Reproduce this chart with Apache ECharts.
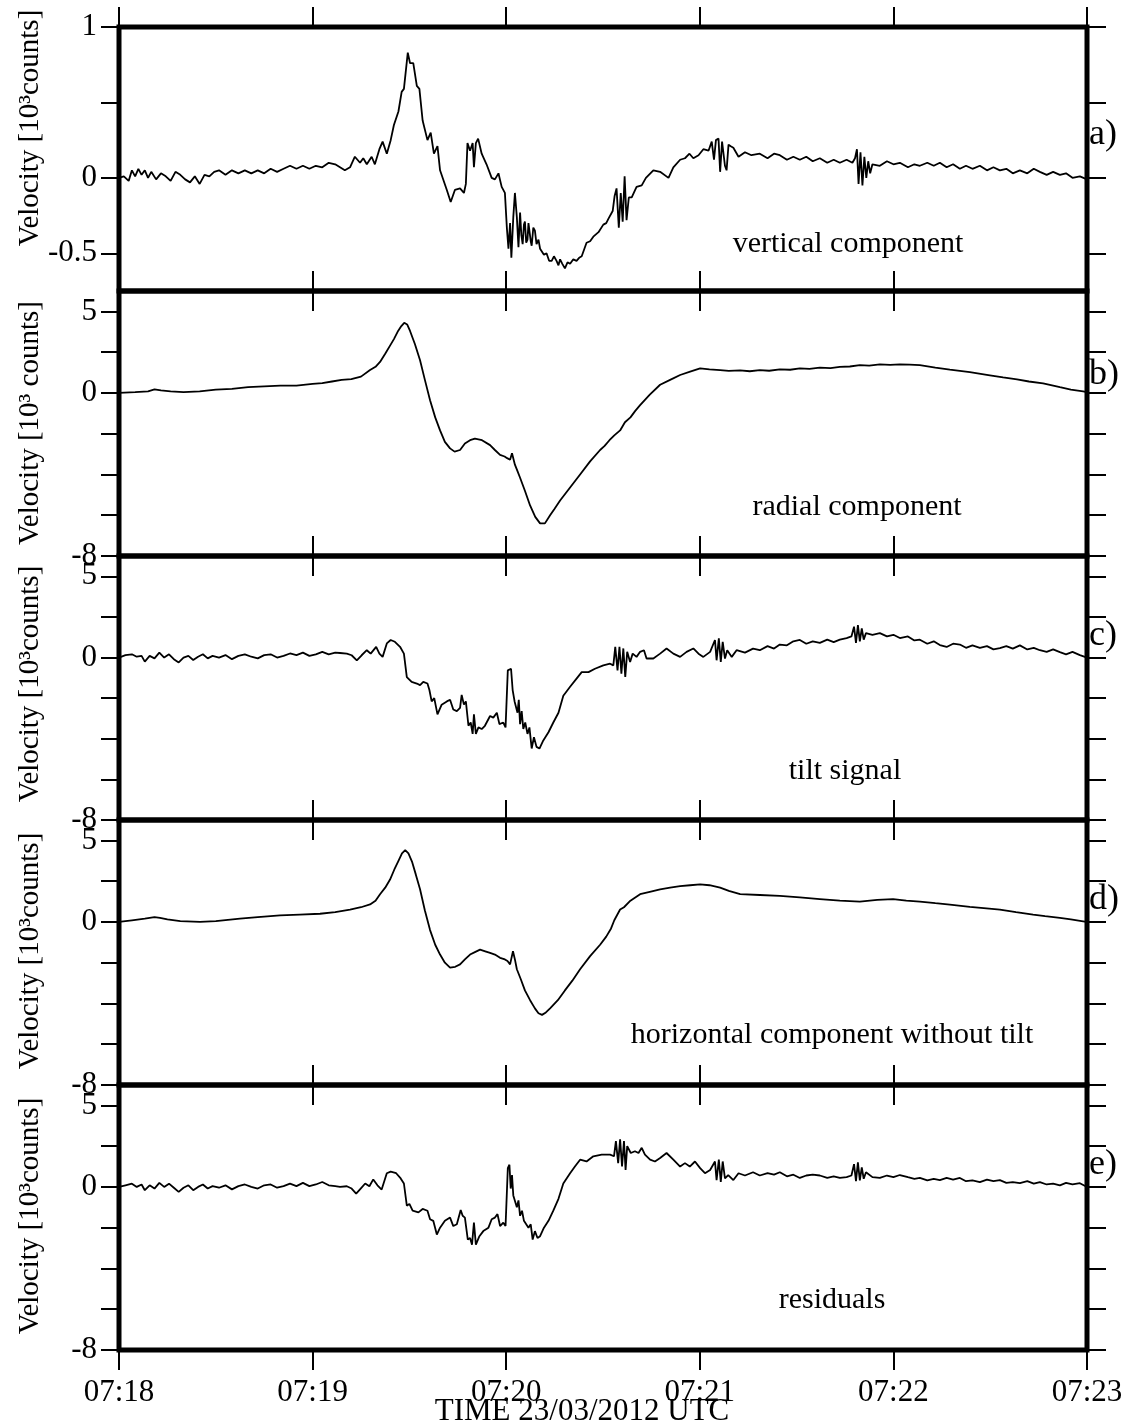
<!DOCTYPE html>
<html><head><meta charset="utf-8">
<script src="https://cdn.jsdelivr.net/npm/echarts@6/dist/echarts.min.js"></script>
<style>html,body{margin:0;padding:0;background:#fff}#c{width:1133px;height:1428px}</style>
</head><body><div id="c"></div>
<script>
// ---------- text / ticks ----------
const xTickLabels = ['07:18','07:19','07:20','07:21','07:22','07:23']; // every 60 s
const xTitle = 'TIME 23/03/2012 UTC';
const panelNames = ['vertical component','radial component','tilt signal','horizontal component without tilt','residuals'];
const panelLetters = ['a)','b)','c)','d)','e)'];
const yTitles = ['Velocity [10³counts]','Velocity [10³ counts]','Velocity [10³counts]','Velocity [10³counts]','Velocity [10³counts]'];
const yRangeVert = [-0.75, 1];
const yRangeHor = [-10, 6.25];
const yTicksVert = [-0.5, 0, 0.5, 1];
const yTicksHor = [-10, -7.5, -5, -2.5, 0, 2.5, 5];
const yLabelValsVert = [-0.5, 0, 1];
const yLabelTextVert = ['-0.5', '0', '1'];
const yLabelValsHor = [-10, 0, 5];
const yLabelTextHor = ['-8', '0', '5'];

// ---------- data: [seconds after 07:18, velocity (10^3 counts)] ----------
const vertical = [[0,0],[1.5,0.01],[3,-0.02],[4,0.05],[5,0.01],[6,0.06],[7,0.02],[8,0.05],[9,0.0],[10,0.04],[11.5,-0.01],[13,0.03],[14.5,0.01],[16,-0.02],[17.5,0.04],[19,0.02],[20.5,-0.01],[22,-0.03],[23.5,0.01],[25,-0.04],[26.5,0.02],[28,0.01],[29.5,0.04],[31,0.05],[33,0.02],[35,0.05],[37,0.03],[39,0.05],[41,0.03],[43,0.05],[45,0.03],[47,0.06],[49,0.04],[51,0.06],[53,0.08],[55,0.06],[57,0.08],[59,0.06],[61,0.08],[63,0.07],[65,0.10],[67,0.09],
[68.5,0.07],[70.0,0.05],[71.6,0.07],[73.1,0.14],[74.7,0.10],[75.7,0.13],[76.8,0.09],[78.3,0.14],[79.3,0.09],[80.7,0.19],[81.7,0.24],[83.0,0.16],[84.2,0.25],[85.2,0.35],[86.6,0.44],[87.6,0.57],[88.3,0.59],[89.5,0.83],[90.2,0.76],[91.2,0.76],[92.3,0.61],[93.1,0.59],[94.1,0.38],[95.6,0.25],[96.6,0.30],[97.6,0.16],[98.7,0.21],[99.5,0.05],[101.6,-0.08],[102.8,-0.16],[104.1,-0.08],[105.7,-0.07],[106.9,-0.10],[107.5,-0.04],[108.0,0.23],[108.8,0.18],[109.6,0.23],[110.0,0.07],[110.6,0.23],[111.3,0.26],[112.4,0.16],[113.9,0.09],[115.5,0.00],[116.5,-0.01],[117.6,0.03],[118.6,-0.06],[119.6,-0.10],[120.2,-0.33],[120.7,-0.47],[121.2,-0.30],[121.6,-0.53],[122.2,-0.26],[122.7,-0.10],[123.3,-0.26],[123.8,-0.46],[124.3,-0.23],[124.7,-0.38],[125.1,-0.44],[125.5,-0.31],[125.8,-0.29],[126.2,-0.43],[126.6,-0.41],[126.9,-0.30],[127.2,-0.29],[127.6,-0.42],[127.9,-0.45],[128.4,-0.33],[128.9,-0.35],[129.4,-0.44],[130.0,-0.41],[130.5,-0.47],[131.0,-0.46],[131.7,-0.51],[132.5,-0.50],[133.3,-0.55],[134.1,-0.55],[134.8,-0.52],[135.6,-0.55],[136.2,-0.58],[136.7,-0.54],[137.4,-0.57],[138.2,-0.60],[139.0,-0.56],[139.8,-0.57],[140.8,-0.54],[141.8,-0.55],[142.6,-0.53],[143.4,-0.52],[144.9,-0.43],[146.0,-0.42],[147.0,-0.39],[148.6,-0.36],[150.1,-0.31],[151.0,-0.30],[151.7,-0.27],[153.0,-0.22],[153.6,-0.12],[154.2,-0.07],[154.9,-0.33],[155.5,-0.10],[156.1,-0.29],[156.7,0.01],[157.3,-0.28],[158.0,-0.13],[158.9,-0.13],[160.4,-0.06],[162.0,-0.05],[163.3,0.00],[165.6,0.05],[167.7,0.04],[170.3,0.00],[171.8,0.07],[173.9,0.12],[175.4,0.13],[176.8,0.16],[178.0,0.13],[179.6,0.15],[181.1,0.19],[182.7,0.18],[183.7,0.24],[184.4,0.12],[185.0,0.25],[185.8,0.26],[186.3,0.04],[186.9,0.24],[187.3,0.25],[187.8,0.08],[188.3,0.05],[188.9,0.22],[189.6,0.21],[190.4,0.20],[192.0,0.14],
[194,0.17],[196,0.15],[198.6,0.16],[201,0.13],[203,0.16],[204.8,0.15],[207,0.12],[209,0.14],[211,0.12],[213,0.14],[215,0.11],[217.2,0.13],[219.5,0.10],[221.5,0.12],[223.4,0.10],[225.5,0.12],[227.3,0.10],[228.1,0.13],[228.7,0.19],[229.2,-0.04],[229.8,0.17],[230.4,-0.05],[231.0,0.14],[231.6,0.0],[232.2,0.11],[232.8,0.03],[233.5,0.09],[235.8,0.08],[238,0.11],[240,0.09],[242,0.10],[244.5,0.07],[246.5,0.09],[248.2,0.08],[250.5,0.10],[252.5,0.08],[254.4,0.10],[256.5,0.07],[258.5,0.09],[260.6,0.06],[262.5,0.08],[264.5,0.06],[266.8,0.08],[269,0.05],[271,0.07],[273,0.05],[275,0.06],[277,0.03],[279.2,0.05],[281.5,0.03],[283.5,0.06],[285.4,0.04],[287.5,0.02],[289.5,0.04],[291.6,0.02],[293.5,0.03],[295.5,0.0],[297.8,0.01],[300,-0.01]];

const radial = [[0,0],[5,0.05],[9,0.1],[11,0.22],[13,0.15],[16,0.1],[20,0.05],[25,0.1],[30,0.2],[35,0.25],[40,0.35],[45,0.4],[50,0.45],[55,0.45],[60,0.55],[63,0.6],[66,0.7],[69,0.8],[72,0.85],[75,1.0],[77.8,1.4],[79.5,1.6],[80.9,1.9],[82.5,2.4],[84,2.9],[85.2,3.3],[86.5,3.8],[87.5,4.1],[88.4,4.3],[89.3,4.2],[90.2,3.8],[91.7,3.0],[93.3,2.0],[94.8,0.8],[96.4,-0.45],[98,-1.5],[99.5,-2.3],[101,-3.0],[102.6,-3.4],[104,-3.6],[105.7,-3.5],[107.2,-3.1],[108.8,-2.9],[110.3,-2.8],[112.5,-2.9],[115,-3.2],[116.5,-3.5],[118.1,-3.8],[119.5,-3.9],[120.3,-4.0],[121.2,-4.1],[121.8,-3.7],[122.7,-4.4],[123.5,-4.8],[124.3,-5.2],[125.8,-6.0],[127.4,-6.9],[129,-7.6],[130.5,-8.0],[131.1,-8.1],[132,-8.0],[133.6,-7.5],[135,-7.1],[136.7,-6.6],[139.8,-5.8],[142.9,-5.0],[146,-4.2],[149.1,-3.5],[150.5,-3.25],[152,-2.9],[153.5,-2.6],[155.3,-2.3],[156.8,-1.8],[158.5,-1.5],[160,-1.1],[161.5,-0.75],[164.5,-0.1],[167.7,0.5],[170.8,0.8],[173.9,1.1],[177,1.3],[180.1,1.5],[183,1.45],[186.3,1.4],[189,1.35],[192.5,1.38],[195.5,1.33],[198.6,1.4],[201.5,1.36],[204.8,1.45],[208,1.42],[211,1.5],[214,1.47],[217.2,1.55],[220.5,1.52],[223.4,1.6],[226.5,1.62],[229.6,1.7],[232.5,1.68],[235.8,1.75],[239,1.72],[242,1.75],[245,1.73],[248.2,1.7],[253,1.55],[257.5,1.43],[263.7,1.28],[269.9,1.08],[274,0.95],[278.3,0.83],[282,0.7],[286.4,0.59],[291.6,0.35],[295,0.2],[298.8,0.1],[300,0.05]];

const tilt = [[0,0],[2,0.15],[4,0.2],[5.5,0.05],[7,0.1],[8,-0.25],[9.5,0.1],[11,-0.05],[12.5,0.3],[14,0.0],[15.5,0.2],[17,-0.1],[18.5,-0.3],[20,0.0],[21.5,0.1],[23,-0.15],[24.5,0.05],[26,0.2],[27.5,-0.05],[29,0.1],[31,0.0],[33,0.15],[35,-0.1],[37,0.1],[39,0.2],[41,0.05],[43,-0.05],[45,0.15],[47,0.2],[49,0.0],[51,0.1],[53,0.25],[55,0.15],[57,0.3],[59,0.1],[61,0.2],[63,0.35],[65,0.2],[67,0.3],
[68.5,0.28],[70.6,0.24],[72.1,0.14],[73.7,-0.17],[75.2,0.14],[76.8,0.45],[78.0,0.24],[79.7,0.66],[80.7,0.24],[81.7,0.04],[83.0,0.87],[84.2,1.08],[85.5,0.97],[87.1,0.66],[88.3,0.24],[89.2,-1.2],[89.7,-1.1],[90.7,-1.5],[92.3,-1.6],[93.3,-1.7],[94.3,-1.5],[95.6,-1.6],[96.2,-2.0],[96.9,-2.7],[97.7,-2.5],[98.7,-3.5],[100.0,-2.9],[101.6,-2.7],[102.6,-2.6],[103.6,-3.2],[104.7,-3.3],[105.7,-3.1],[106.2,-2.3],[106.9,-2.9],[107.5,-2.7],[108.3,-4.2],[109.0,-4.0],[109.6,-4.7],[110.0,-3.5],[110.6,-4.7],[111.4,-4.3],[112.4,-4.4],[113.4,-4.2],[115.0,-3.6],[116.0,-3.7],[117.1,-3.4],[117.9,-4.1],[119.1,-4.0],[119.8,-4.3],[120.5,-0.79],[121.0,-0.9],[121.5,-0.69],[122.0,-2.0],[122.6,-2.7],[123.0,-2.7],[123.5,-3.4],[123.9,-2.6],[124.3,-4.1],[124.8,-3.3],[125.3,-4.4],[125.9,-4.0],[126.6,-4.7],[127.2,-4.3],[127.9,-5.6],[128.6,-4.9],[129.4,-5.5],[130.3,-5.6],[131.5,-5.1],[133.1,-4.6],[134.6,-4.0],[136.2,-3.4],[137.7,-2.35],[139.8,-1.8],[141.8,-1.3],[143.4,-0.9],[145.5,-0.9],[147.5,-0.69],[150.1,-0.48],[152.2,-0.38],[153.2,-0.48],[153.8,0.66],[154.5,-0.79],[155.1,0.66],[155.7,-1.0],[156.3,0.56],[156.9,-1.2],[157.5,0.35],[158.4,-0.27],[159.2,0.24],[160.4,0.04],[161.5,0.35],[162.7,0.45],[163.5,-0.06],[165.6,-0.06],[167.7,0.24],[169.7,0.56],[171.8,0.24],[173.9,0.04],[175.9,0.35],[178.0,0.56],[179.6,0.24],[181.1,0.04],[183.2,0.35],[184.7,1.08],[185.2,-0.17],[185.9,1.18],[186.5,-0.27],[187.1,0.97],[187.8,-0.06],[188.5,0.45],[189.9,0.04],[191.4,0.45],
[194,0.3],[196.5,0.55],[198.6,0.45],[201,0.7],[203,0.55],[204.8,0.8],[207,0.75],[209,1.0],[211,1.08],[213,0.85],[215,1.0],[217.2,0.9],[219.5,1.1],[221.5,0.95],[223.4,1.1],[225.5,1.2],[227,1.3],[227.8,1.9],[228.4,0.9],[229.0,2.0],[229.6,1.0],[230.2,1.8],[230.8,1.1],[231.5,1.5],[233.5,1.4],[235.8,1.5],[238,1.3],[240,1.4],[242,1.2],[244.5,1.3],[246.5,1.05],[248.2,1.1],[250.5,0.85],[252.5,1.0],[254.4,0.77],[256.5,0.65],[258.5,0.85],[260.6,0.8],[262.5,0.6],[264.5,0.75],[266.8,0.6],[269,0.7],[271,0.5],[273,0.58],[275,0.7],[277,0.55],[279.2,0.75],[281.5,0.5],[283.5,0.6],[285.4,0.45],[287.5,0.35],[289.5,0.5],[291.6,0.33],[293.5,0.2],[295.5,0.35],[297.8,0.15],[300,0.0]];

const horizontal = [[0,0],[4,0.1],[8,0.2],[11,0.3],[12.7,0.25],[15,0.15],[19,0.05],[25.1,0.0],[30,0.05],[37.5,0.2],[43,0.3],[49.9,0.4],[56,0.45],[62.3,0.5],[67,0.6],[71.6,0.75],[75,0.9],[77.8,1.07],[79.5,1.3],[80.9,1.7],[82.5,2.1],[84,2.6],[85.3,3.2],[86.5,3.7],[87.7,4.2],[88.7,4.4],[89.7,4.2],[90.8,3.7],[92,2.9],[93.3,2.0],[94.8,0.7],[96.4,-0.5],[98,-1.4],[99.5,-2.0],[101,-2.5],[102.6,-2.8],[104.2,-2.75],[105.7,-2.6],[107.2,-2.3],[108.8,-2.0],[110.3,-1.85],[111.9,-1.7],[113.5,-1.8],[115,-1.9],[116.5,-2.0],[118.1,-2.2],[119.6,-2.3],[120.4,-2.4],[121.2,-2.6],[122.1,-1.8],[122.7,-2.3],[123.3,-2.9],[124.5,-3.5],[125.8,-4.2],[127.4,-4.8],[128.9,-5.3],[130,-5.6],[131.1,-5.7],[132.3,-5.55],[133.6,-5.3],[136,-4.8],[138.2,-4.2],[140.5,-3.6],[142.9,-2.9],[146,-2.1],[149.1,-1.4],[151,-0.9],[152.5,-0.4],[153.5,0.1],[155.3,0.76],[156.5,0.9],[158.5,1.3],[161.5,1.7],[164.5,1.85],[167.7,2.0],[170.8,2.1],[173.9,2.2],[177,2.25],[180.1,2.3],[183,2.25],[186.3,2.1],[189,1.9],[192.5,1.7],[198.6,1.65],[204.8,1.6],[211,1.5],[217.2,1.4],[223.4,1.3],[229.6,1.25],[235,1.35],[239.9,1.4],[244,1.3],[248.2,1.25],[253,1.15],[257.5,1.06],[263.7,0.92],[268,0.85],[273,0.76],[278,0.6],[283.3,0.45],[287,0.35],[291.6,0.25],[295,0.15],[298.8,0.04],[300,0.0]];

const residuals = [[0,0],[2,0.1],[4,0.2],[5.5,0.0],[7,0.15],[8,-0.2],[9.5,0.1],[11,-0.1],[12.5,0.25],[14,0.0],[15.5,0.2],[17,-0.05],[18.5,-0.3],[20,-0.05],[21.5,0.1],[23,-0.2],[24.5,0.0],[26,0.15],[27.5,-0.1],[29,0.05],[31,-0.05],[33,0.1],[35,-0.15],[37,0.05],[39,0.15],[41,0.0],[43,-0.1],[45,0.1],[47,0.15],[49,-0.05],[51,0.05],[53,0.2],[55,0.05],[57,0.25],[59,0.05],[61,0.15],[63,0.3],[65,0.1],[67,0.05],
[68.5,0.0],[70.6,0.04],[72.1,-0.1],[73.5,-0.41],[74.9,-0.1],[76.3,0.21],[77.6,0.04],[78.8,0.46],[80.1,0.1],[81.4,-0.16],[83.0,0.84],[84.2,0.94],[85.9,0.84],[87.3,0.52],[88.3,0.21],[89.2,-1.15],[90.0,-1.04],[91.0,-1.46],[92.8,-1.56],[94.1,-1.35],[95.6,-1.46],[96.4,-1.98],[97.4,-2.08],[98.5,-2.92],[99.5,-2.5],[101.0,-2.08],[102.6,-1.88],[103.6,-2.4],[104.7,-2.29],[105.9,-1.42],[106.5,-1.77],[107.2,-1.88],[108.1,-3.23],[108.8,-3.13],[109.4,-3.54],[110.0,-2.19],[110.6,-3.54],[111.7,-3.02],[112.9,-2.71],[114.5,-2.5],[115.5,-1.98],[116.5,-1.88],[117.3,-1.67],[118.1,-2.4],[119.1,-2.19],[119.8,-2.4],[120.5,1.15],[121.0,1.36],[121.4,-0.1],[121.8,0.73],[122.2,-0.52],[122.8,-0.41],[123.3,-1.25],[123.8,-0.83],[124.3,-1.77],[124.9,-1.46],[125.5,-2.08],[126.1,-1.98],[126.9,-2.5],[127.6,-2.29],[128.2,-3.23],[128.9,-2.71],[129.7,-3.13],[130.5,-3.02],[131.7,-2.5],[133.1,-2.08],[134.6,-1.46],[136.2,-0.73],[137.7,0.21],[139.8,0.84],[141.3,1.25],[142.9,1.67],[144.9,1.56],[147.0,1.88],[149.6,1.98],[152.2,1.98],[153.4,1.88],[154.0,2.81],[154.7,1.46],[155.3,2.92],[155.9,1.25],[156.5,2.81],[157.0,1.04],[157.5,2.5],[158.6,2.08],[159.9,2.19],[161.0,2.08],[162.0,2.4],[163.0,1.98],[164.6,1.67],[166.1,1.56],[167.7,1.77],[169.7,2.08],[171.8,1.67],[173.9,1.25],[175.4,1.46],[176.9,1.25],[178.5,1.56],[180.1,1.15],[181.6,0.84],[183.2,1.04],[184.7,1.56],[185.2,0.42],[185.9,1.67],[186.5,0.31],[187.1,1.56],[187.8,0.52],[188.8,0.73],[190.4,0.42],[192.0,0.84],
[194,0.7],[196.5,0.9],[198.6,0.7],[201,0.85],[203,0.75],[204.8,0.9],[207,0.65],[209,0.75],[211,0.55],[213,0.7],[215,0.75],[217.2,0.7],[219.5,0.55],[221.5,0.65],[223.4,0.55],[225.5,0.6],[227,0.7],[227.8,1.4],[228.4,0.35],[229.0,1.5],[229.6,0.4],[230.2,1.2],[230.8,0.5],[231.5,0.9],[233.5,0.6],[235.8,0.55],[238,0.7],[240,0.6],[242,0.73],[244.5,0.6],[246.5,0.5],[248.2,0.55],[250.5,0.4],[252.5,0.5],[254.4,0.42],[256.5,0.55],[258.5,0.45],[260.6,0.55],[262.5,0.35],[264.5,0.4],[266.8,0.3],[269,0.45],[271,0.35],[273,0.42],[275,0.25],[277,0.3],[279.2,0.23],[281.5,0.35],[283.5,0.2],[285.4,0.3],[287.5,0.15],[289.5,0.2],[291.6,0.1],[293.5,0.25],[295.5,0.15],[297.8,0.23],[300,0.0]];

// ---------- layout ----------
const FONT = '"Liberation Serif", "Times New Roman", serif';
const tops = [27, 291, 556, 820, 1085];
const heights = [264, 265, 264, 265, 265];
const gridLeft = 119, gridWidth = 968;
const seriesData = [vertical, radial, tilt, horizontal, residuals];
const titleCenters = [128, 423, 684, 951, 1216];
const letterCenters = [135, 375, 636, 900, 1165];
const annotPos = [[848, 244], [857, 507], [845, 771], [832, 1035], [832, 1300]];

const black = '#000';
const tickStyle = {color: black, width: 2};
function labelFor(vals, texts) {
  return v => { for (let k = 0; k < vals.length; k++) if (Math.abs(vals[k] - v) < 1e-6) return texts[k]; return ''; };
}

const grid = [], xAxis = [], yAxis = [], series = [], graphic = [];
for (let i = 0; i < 5; i++) {
  grid.push({left: gridLeft, top: tops[i], width: gridWidth, height: heights[i], show: true,
    borderColor: black, borderWidth: 5, backgroundColor: 'transparent', outerBoundsMode: 'none'});
}
for (let i = 0; i < 5; i++) {
  xAxis.push({type: 'value', gridIndex: i, position: 'bottom', min: 0, max: 300, interval: 60,
    axisLine: {show: false, onZero: false}, splitLine: {show: false},
    axisTick: {show: true, inside: false, length: 20, lineStyle: tickStyle},
    axisLabel: {show: i === 4, margin: 27, color: black, fontSize: 31, fontFamily: FONT,
      formatter: v => xTickLabels[Math.round(v / 60)] || ''}});
}
for (let i = 0; i < 5; i++) {
  xAxis.push({type: 'value', gridIndex: i, position: 'top', min: 0, max: 300, interval: 60,
    axisLine: {show: false, onZero: false}, splitLine: {show: false},
    axisTick: {show: true, inside: false, length: 20, lineStyle: tickStyle},
    axisLabel: {show: false}});
}
for (let i = 0; i < 5; i++) {
  const isV = i === 0;
  const rng = isV ? yRangeVert : yRangeHor;
  yAxis.push({type: 'value', gridIndex: i, position: 'left', min: rng[0], max: rng[1],
    axisLine: {show: false, onZero: false}, splitLine: {show: false},
    axisTick: {show: true, inside: false, length: 18, lineStyle: tickStyle, customValues: isV ? yTicksVert : yTicksHor},
    axisLabel: {show: true, margin: 22, color: black, fontSize: 31, fontFamily: FONT,
      customValues: isV ? yLabelValsVert : yLabelValsHor,
      formatter: isV ? labelFor(yLabelValsVert, yLabelTextVert) : labelFor(yLabelValsHor, yLabelTextHor)}});
}
for (let i = 0; i < 5; i++) {
  const isV = i === 0;
  const rng = isV ? yRangeVert : yRangeHor;
  yAxis.push({type: 'value', gridIndex: i, position: 'right', min: rng[0], max: rng[1],
    axisLine: {show: false, onZero: false}, splitLine: {show: false},
    axisTick: {show: true, inside: false, length: 19, lineStyle: tickStyle, customValues: isV ? yTicksVert : yTicksHor},
    axisLabel: {show: false}});
}
for (let i = 0; i < 5; i++) {
  series.push({type: 'line', xAxisIndex: i, yAxisIndex: i, data: seriesData[i], symbol: 'none', showSymbol: false,
    silent: true, lineStyle: {color: black, width: 1.8}, z: 3});
  graphic.push({type: 'text', x: 30, y: titleCenters[i], rotation: Math.PI / 2,
    style: {text: yTitles[i], fill: black, font: '29px ' + FONT, textAlign: 'center', textVerticalAlign: 'middle'}});
  graphic.push({type: 'text', x: 1089, y: letterCenters[i],
    style: {text: panelLetters[i], fill: black, font: '36px ' + FONT, textAlign: 'left', textVerticalAlign: 'middle'}});
  graphic.push({type: 'text', x: annotPos[i][0], y: annotPos[i][1],
    style: {text: panelNames[i], fill: black, font: '30px ' + FONT, textAlign: 'center', textVerticalAlign: 'middle'}});
}
graphic.push({type: 'text', x: 582, y: 1412,
  style: {text: xTitle, fill: black, font: '31px ' + FONT, textAlign: 'center', textVerticalAlign: 'middle'}});

const chart = echarts.init(document.getElementById('c'), null, {renderer: 'canvas'});
chart.setOption({animation: false, backgroundColor: '#fff', grid, xAxis, yAxis, series, graphic});
</script></body></html>
